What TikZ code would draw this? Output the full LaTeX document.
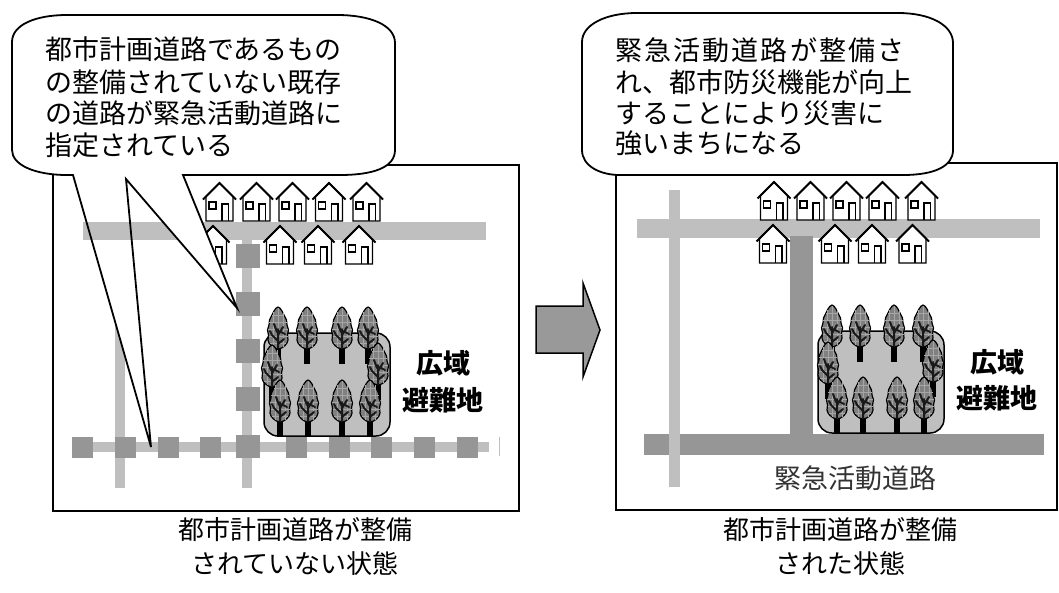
\documentclass[tikz,border=0pt]{standalone}
\usepackage{fontspec}
\newfontfamily\jp{Noto Sans CJK JP}

\definecolor{roadlight}{gray}{0.75}
\definecolor{roaddark}{gray}{0.59}
\definecolor{crowngray}{gray}{0.5}
\definecolor{arrowgray}{gray}{0.6}
\definecolor{labelgray}{gray}{0.2}

\tikzset{
  frame/.style={draw=black, line width=1.8},
  callout/.style={draw=black, line width=1.8, line join=miter},
  bubbletext/.style={anchor=west, inner sep=0pt, font=\jp\fontsize{27}{32}\selectfont},
  caption/.style={anchor=center, inner sep=0pt, font=\jp\fontsize{26}{30}\selectfont},
  arealabel/.style={anchor=center, inner sep=0pt, font=\jp\bfseries\fontsize{27}{30}\selectfont},
  roadlabel/.style={anchor=center, inner sep=0pt, text=labelgray, font=\jp\fontsize{27}{30}\selectfont},
  lightroad/.style={fill=roadlight},
  darkroad/.style={fill=roaddark},
  refuge/.style={draw=black, fill=roadlight, line width=1.5, rounded corners=14},
  blockarrow/.style={draw=black, fill=arrowgray, line width=1.5, line join=miter},
  house/.pic={
    \filldraw[fill=white, line width=1.4] (-13.5,38) -- (-13.5,13.5) -- (0,0) -- (13.5,13.5) -- (13.5,38) -- cycle;
    \draw[line width=2, line join=miter] (-16.5,16.5) -- (0,0) -- (16.5,16.5);
    \draw[line width=1.3] (-10.5,19) rectangle (-3.5,26);
    \draw[line width=1.3] (2.5,38) -- (2.5,21) -- (9,21) -- (9,38);
  },
  tree/.pic={
    \draw[line width=5.5] (0,28) -- (0,57);
    \filldraw[line width=1.2, fill=crowngray]
      plot[smooth cycle, tension=0.7] coordinates {(0,0) (4,4) (6.5,9) (8.5,13) (9,18) (10.5,23) (9.5,28) (10,33) (7,38.5) (0,42) (-7,38.5) (-10,33) (-9.5,28) (-10.5,23) (-9,18) (-8.5,13) (-6.5,9) (-4,4)};
    \draw[black!35, line width=0.5]
      (-6,8) -- (6,8) (-9,15) -- (9,15) (-10,22) -- (10,22) (-9.5,29) -- (9.5,29) (-8,36) -- (8,36)
      (-5,5) -- (-5,40) (0,1) -- (0,41) (5,5) -- (5,40);
    \draw[black!90, line width=2, line cap=round]
      (0,41) -- (0,22) (0,34) -- (-6,28) -- (-8,24) (0,28) -- (5,20) (0,37) -- (6,32)
      (-1,25) -- (-4,17) (3,25) -- (7,27);
  }
}

\begin{document}
\begin{tikzpicture}[x=1pt, y=-1pt]
\useasboundingbox (0,0) rectangle (1059,592);

% ---------------- left panel: before the roads are built ----------------
\draw[frame] (53,165) rectangle (519,511);

% side road that runs down the west edge
\fill[lightroad] (115,190) rectangle (125,488);
% the lower part of the left pointer hides the top of that road
\fill[white] (73,175) -- (151,447) -- (126,179) -- cycle;

% existing roads
\fill[lightroad] (83,222) rectangle (486,240);
\fill[lightroad] (242,240) rectangle (252,488);
\fill[lightroad] (72,442) rectangle (489,452);
\draw[roadlight, line width=1] (499,437) -- (499,456);

% planned but unbuilt city roads (dashed blocks)
\foreach \sx in {72,115,158,200,286,329,371,414,457}
  \fill[darkroad] (\sx,437) rectangle (\sx+21,458);
\foreach \sy in {244,292,339,387}
  \fill[darkroad] (236,\sy) rectangle (260,\sy+24);
\fill[darkroad] (236,435) rectangle (260,458);

% houses
\foreach \hx in {219.5,256.5,292.5,329,366.5}
  \pic at (\hx,183) {house};
\foreach \hx in {213,280,318,359}
  \pic at (\hx,226) {house};

% wide-area evacuation site
\draw[refuge] (264,333) rectangle (390,436);
\foreach \tx in {278,307,342,368} \pic at (\tx,307) {tree};
\pic at (272,345) {tree};
\pic at (378,343) {tree};
\foreach \tx in {280,308,342,370} \pic at (\tx,380) {tree};

\node[arealabel] (areaL1) at (443,363) {広域};
\node[arealabel] (areaL2) at (443,400) {避難地};

% callout with two pointers
\fill[white] (183,175) -- (340,175) .. controls (372,175) and (395,168) .. (395,150)
  -- (395,43) .. controls (395,25) and (370,15) .. (337,15)
  -- (67,15) .. controls (35,15) and (12,25) .. (12,42)
  -- (12,150) .. controls (12,165) and (35,175) .. (67,175)
  -- (126,179) -- (237,308) -- cycle;
\draw[callout] (183,175) -- (340,175) .. controls (372,175) and (395,168) .. (395,150)
  -- (395,43) .. controls (395,25) and (370,15) .. (337,15)
  -- (67,15) .. controls (35,15) and (12,25) .. (12,42)
  -- (12,150) .. controls (12,165) and (35,175) .. (67,175)
  -- (73,175) -- (151,447) -- (126,179) -- (237,308) -- cycle;

\node[bubbletext] (noteL1) at (45,49) {都市計画道路であるもの};
\node[bubbletext] (noteL2) at (45,82) {の整備されていない既存};
\node[bubbletext] (noteL3) at (45,113) {の道路が緊急活動道路に};
\node[bubbletext] (noteL4) at (45,145) {指定されている};

\node[caption] (capL1) at (295,530) {都市計画道路が整備};
\node[caption] (capL2) at (295,564) {されていない状態};

% ---------------- transition arrow ----------------
\draw[blockarrow] (536,306) -- (583,306) -- (583,283) -- (600,330) -- (583,377) -- (583,353) -- (536,353) -- cycle;

% ---------------- right panel: after the roads are built ----------------
\draw[frame] (616,163) rectangle (1057,510);

\fill[lightroad] (637,219) rectangle (1040,238);
\fill[darkroad] (790,236) rectangle (813,440);
\fill[darkroad] (644,434) rectangle (1044,455);
\fill[lightroad] (669,190) rectangle (680,487);

\foreach \hx in {774,810.5,846.5,882.5,921.5}
  \pic at (\hx,182) {house};
\foreach \hx in {773,835,872,912.5}
  \pic at (\hx,225) {house};

\draw[refuge] (818,331) rectangle (944,433);
\foreach \tx in {832,860,894,923} \pic at (\tx,305) {tree};
\pic at (828,342) {tree};
\pic at (933,340) {tree};
\foreach \tx in {837,863,897,924} \pic at (\tx,377) {tree};

\node[arealabel] (areaR1) at (997,362) {広域};
\node[arealabel] (areaR2) at (997,398) {避難地};
\node[roadlabel] (roadR) at (855,478) {緊急活動道路};

% plain callout
\filldraw[callout, fill=white] (620,175) -- (903,175) .. controls (935,175) and (953,166) .. (953,150)
  -- (953,43) .. controls (953,25) and (930,13) .. (898,13)
  -- (637,13) .. controls (605,13) and (582,25) .. (582,42)
  -- (582,150) .. controls (582,166) and (600,175) .. cycle;

\node[bubbletext] (noteR1) at (615,50) {\addfontfeature{LetterSpace=8}緊急活動道路が整備さ};
\node[bubbletext] (noteR2) at (615,82) {れ、都市防災機能が向上};
\node[bubbletext] (noteR3) at (615,113) {することにより災害に};
\node[bubbletext] (noteR4) at (615,143) {強いまちになる};

\node[caption] (capR1) at (840,530) {都市計画道路が整備};
\node[caption] (capR2) at (840,564) {された状態};
\end{tikzpicture}
\end{document}
